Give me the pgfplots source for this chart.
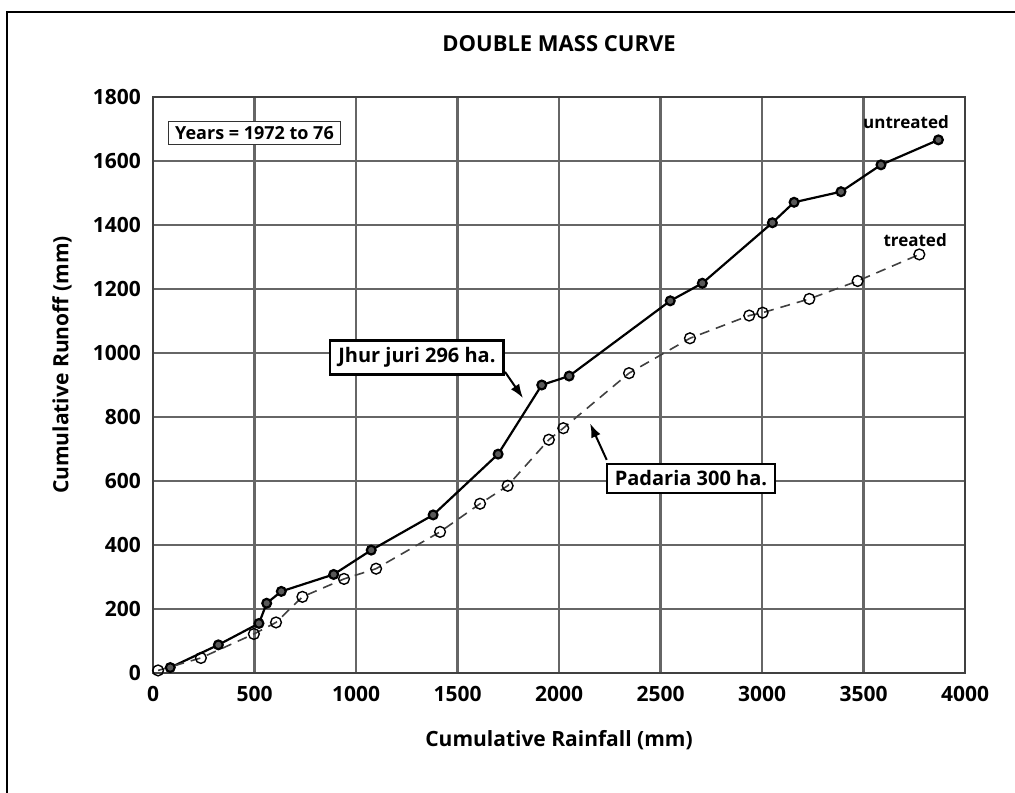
\documentclass[border=0pt]{standalone}
\usepackage{fontspec}
\setmainfont{Open Sans}
\usepackage{pgfplots}
\pgfplotsset{compat=1.18}
\usetikzlibrary{arrows.meta}
\begin{document}
\begin{tikzpicture}[font=\bfseries\fontsize{10.5}{12}\selectfont]
\begin{axis}[
 at={(0,0)}, anchor=south west,
 scale only axis, width=406pt, height=288pt,
 xmin=0, xmax=4000, ymin=0, ymax=1800,
 xtick={0,500,...,4000}, ytick={0,200,...,1800},
 grid=major, major grid style={black!60, line width=1.1pt},
 axis line style={black!75, line width=1.3pt},
 tick style={draw=none},
 /pgf/number format/assume math mode=true,
 /pgf/number format/set thousands separator={},
 ticklabel style={font=\bfseries\fontsize{10.5}{12}\selectfont},
 xticklabel style={yshift=-3pt},
 yticklabel style={xshift=-2.5pt},
 title={DOUBLE MASS CURVE},
 title style={at={(axis description cs:0.5,1)}, anchor=base, yshift=16.5pt, font=\bfseries\fontsize{11}{13}\selectfont},
 xlabel={Cumulative Rainfall (mm)},
 xlabel style={at={([yshift=-33.5pt]axis description cs:0.5,0)}, anchor=center},
 ylabel={Cumulative Runoff (mm)},
 ylabel style={at={([xshift=-45.5pt,yshift=10pt]axis description cs:0,0.5)}, anchor=center},
 clip=false,
]
% untreated
\addplot[black, line width=1.1pt, mark=*, mark size=2.2pt, mark options={fill=black!65, draw=black}]
coordinates {
(85,17) (322,88) (522,155) (560,218) (632,255) (890,308) (1075,384) (1380,494)
(1700,684) (1915,900) (2050,928) (2548,1163) (2706,1218) (3051,1407) (3158,1471)
(3389,1504) (3586,1588) (3869,1666)
};
% treated
\addplot[black!75, line width=0.8pt, dash pattern=on 5pt off 3.5pt, mark=o, mark size=2.7pt, mark options={solid, fill=white, draw=black, line width=0.7pt}]
coordinates {
(25,8) (236,47) (497,122) (606,158) (736,238) (941,294) (1099,326) (1414,441)
(1611,529) (1747,585) (1950,729) (2021,765) (2345,937) (2645,1046) (2937,1117)
(3003,1126) (3233,1169) (3471,1225) (3775,1308)
};
\node[draw=black!80, line width=0.5pt, fill=white, inner xsep=3.5pt, inner ysep=2.5pt, font=\bfseries\fontsize{9}{10}\selectfont] at (axis cs:500,1688) {Years = 1972 to 76};
\node[draw=black, line width=1.1pt, fill=white, inner xsep=4pt, inner ysep=3.5pt, font=\bfseries\fontsize{10}{12}\selectfont] (jj) at (axis cs:1300,986) {Jhur juri 296 ha.};
\node[draw=black, line width=1.1pt, fill=white, inner xsep=4pt, inner ysep=3.5pt, font=\bfseries\fontsize{10}{12}\selectfont] (pd) at (axis cs:2650,608) {Padaria 300 ha.};
\draw[line width=1pt, -{Latex[length=7pt,width=5pt]}] (axis cs:1734,941) -- (axis cs:1823,859);
\draw[line width=1pt, -{Latex[length=7pt,width=5pt]}] (axis cs:2235,666) -- (axis cs:2153,780);
\node[anchor=east, font=\bfseries\fontsize{8.5}{10}\selectfont] at (axis cs:3955,1723) {untreated};
\node[anchor=east, font=\bfseries\fontsize{8.5}{10}\selectfont] at (axis cs:3945,1353) {treated};
\end{axis}
\draw[black, line width=0.6pt] (-73pt,-60pt) -- (-73pt,330.5pt) -- (431pt,330.5pt);
\pgfresetboundingbox
\path (-76.5pt,-59.5pt) rectangle (431pt,336.5pt);
\end{tikzpicture}
\end{document}
